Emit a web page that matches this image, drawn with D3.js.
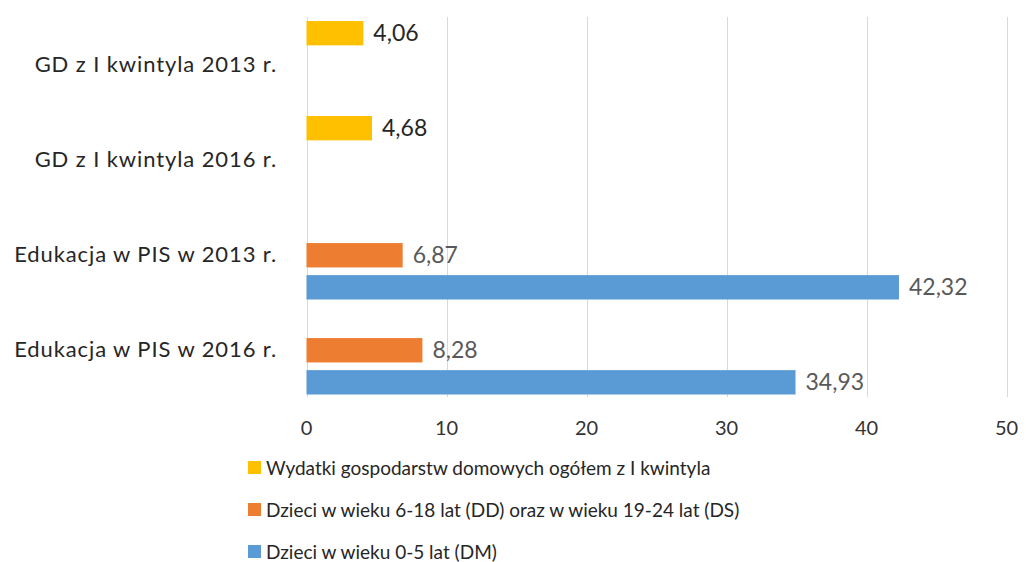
<!DOCTYPE html>
<html>
<head>
  <meta charset="utf-8">
  <title>Wydatki na edukację</title>
  <style>
    body { margin: 0; background: #fff; }
    text { font-family: Lato, "Noto Sans", sans-serif; }
    .grid line { stroke: #d9d9d9; stroke-width: 1px; }
  </style>
</head>
<body>
  <svg id="chart"></svg>

  <script src="https://d3js.org/d3.v7.min.js"></script>
  <script>
    // chart size
    var width = 1028;
    var height = 562;

    // data
    var categories = ["GD z I kwintyla 2013 r.", "GD z I kwintyla 2016 r.", "Edukacja w PIS w 2013 r.", "Edukacja w PIS w 2016 r."];
    var seriesNames = ["Wydatki gospodarstw domowych ogółem z I kwintyla", "Dzieci w wieku 6-18 lat (DD) oraz w wieku 19-24 lat (DS)", "Dzieci w wieku 0-5 lat (DM)"];
    var seriesColors = ["#ffc000", "#ed7d31", "#5b9bd5"];
    var wydatkiGD = [4.06, 4.68, null, null];
    var dzieciDDDS = [null, null, 6.87, 8.28];
    var dzieciDM = [null, null, 42.32, 34.93];
    var xTicks = [0, 10, 20, 30, 40, 50];

    var seriesValues = [wydatkiGD, dzieciDDDS, dzieciDM];

    var margin = { top: 17, left: 306.5, right: 21.5, bottom: 165 };

    var svg = d3.select("#chart")
      .attr("width", width)
      .attr("height", height);

    var x = d3.scaleLinear()
      .domain([0, 50])
      .range([margin.left, width - margin.right]);

    var y0 = d3.scaleBand()
      .domain(categories)
      .range([margin.top, height - margin.bottom]);

    var y1 = d3.scaleBand()
      .domain(d3.range(seriesNames.length))
      .range([4, y0.bandwidth() - 2.5])
      .paddingInner(0.24);

    // gridlines
    svg.append("g")
      .attr("class", "grid")
      .selectAll("line")
      .data(xTicks)
      .enter().append("line")
      .attr("x1", function(d) { return Math.round(x(d)) + 0.5; })
      .attr("x2", function(d) { return Math.round(x(d)) + 0.5; })
      .attr("y1", margin.top)
      .attr("y2", height - margin.bottom);

    // tick labels
    svg.append("g")
      .selectAll("text")
      .data(xTicks)
      .enter().append("text")
      .attr("x", function(d) { return x(d); })
      .attr("y", 435)
      .attr("text-anchor", "middle")
      .attr("font-size", 20)
      .attr("fill", "#333")
      .text(function(d) { return d; });

    // category labels
    svg.append("g")
      .selectAll("text")
      .data(categories)
      .enter().append("text")
      .attr("x", 277)
      .attr("y", function(d) { return y0(d) + y0.bandwidth() / 2 + 7.5; })
      .attr("text-anchor", "end")
      .attr("font-size", 22)
      .attr("letter-spacing", 0.9)
      .attr("fill", "#262626")
      .text(function(d) { return d; });

    // bars
    var bars = [];
    seriesValues.forEach(function(vals, s) {
      vals.forEach(function(v, i) {
        if (v !== null) bars.push({ s: s, cat: categories[i], v: v });
      });
    });

    svg.append("g")
      .selectAll("rect")
      .data(bars)
      .enter().append("rect")
      .attr("x", x(0))
      .attr("y", function(d) { return y0(d.cat) + y1(d.s); })
      .attr("width", function(d) { return x(d.v) - x(0); })
      .attr("height", y1.bandwidth())
      .attr("fill", function(d) { return seriesColors[d.s]; });

    // value labels
    var fmt = function(v) { return d3.format(".2f")(v).replace(".", ","); };
    svg.append("g")
      .selectAll("text")
      .data(bars)
      .enter().append("text")
      .attr("x", function(d) { return x(d.v) + 10; })
      .attr("y", function(d) { return y0(d.cat) + y1(d.s) + y1.bandwidth() / 2 + 8; })
      .attr("font-size", 23)
      .attr("fill", function(d) { return d.s === 0 ? "#262626" : "#595959"; })
      .text(function(d) { return fmt(d.v); });

    // legend
    var legend = svg.append("g")
      .selectAll("g")
      .data(seriesNames)
      .enter().append("g")
      .attr("transform", function(d, i) { return "translate(248," + (461 + i * 42) + ")"; });

    legend.append("rect")
      .attr("width", 13)
      .attr("height", 13)
      .attr("fill", function(d, i) { return seriesColors[i]; });

    legend.append("text")
      .attr("x", 18)
      .attr("y", 13.5)
      .attr("font-size", 19)
      .attr("fill", "#262626")
      .text(function(d) { return d; });
  </script>
</body>
</html>
